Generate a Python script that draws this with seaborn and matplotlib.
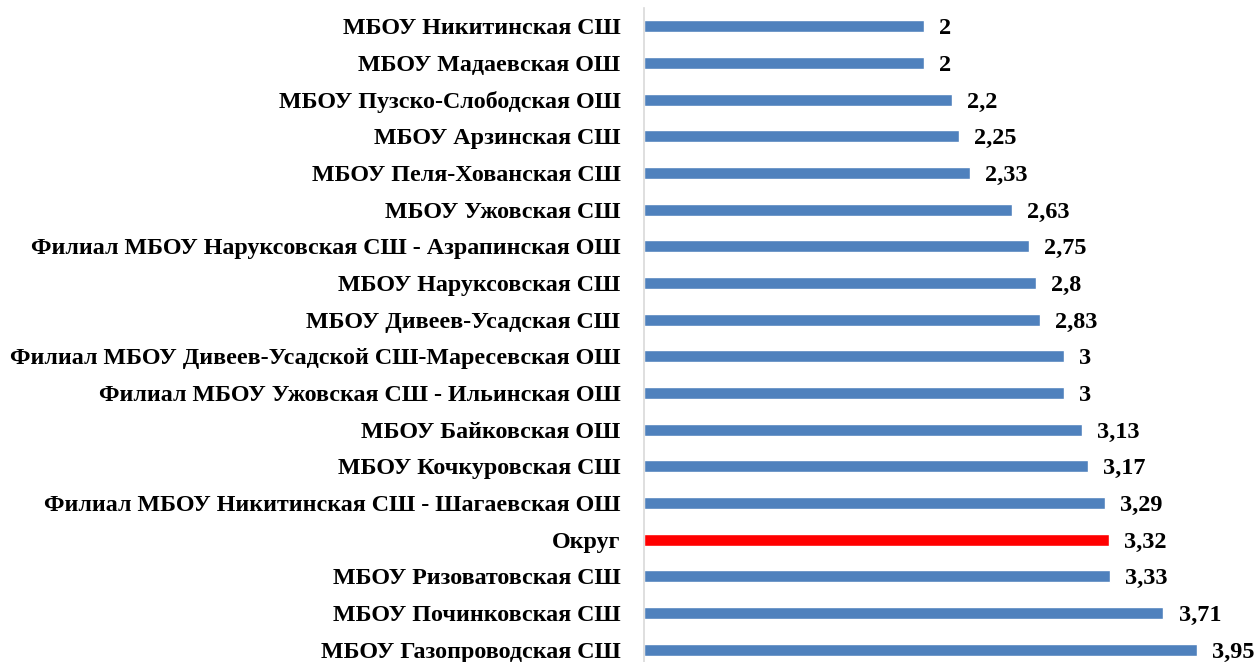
import matplotlib
matplotlib.use("Agg")
import matplotlib.pyplot as plt
import seaborn as sns
import pandas as pd

categories = [
    "МБОУ Никитинская СШ",
    "МБОУ Мадаевская ОШ",
    "МБОУ Пузско-Слободская ОШ",
    "МБОУ Арзинская СШ",
    "МБОУ Пеля-Хованская СШ",
    "МБОУ Ужовская СШ",
    "Филиал МБОУ Наруксовская СШ - Азрапинская ОШ",
    "МБОУ Наруксовская СШ",
    "МБОУ Дивеев-Усадская СШ",
    "Филиал МБОУ Дивеев-Усадской СШ-Маресевская ОШ",
    "Филиал МБОУ Ужовская СШ - Ильинская ОШ",
    "МБОУ Байковская ОШ",
    "МБОУ Кочкуровская СШ",
    "Филиал МБОУ Никитинская СШ - Шагаевская ОШ",
    "Округ",
    "МБОУ Ризоватовская СШ",
    "МБОУ Починковская СШ",
    "МБОУ Газопроводская СШ",
]
values = [2, 2, 2.2, 2.25, 2.33, 2.63, 2.75, 2.8, 2.83, 3, 3, 3.13, 3.17, 3.29, 3.32, 3.33, 3.71, 3.95]
highlight = "Округ"

sns.set_theme(style="white")
plt.rcParams["font.family"] = ["Liberation Serif", "DejaVu Serif"]

df = pd.DataFrame({"name": categories, "value": values})
palette = {c: ("#ff0000" if c == highlight else "#4f81bd") for c in categories}

fig = plt.figure(figsize=(12.58, 6.62), dpi=100)
ax = fig.add_axes([644 / 1258, 1 - 668 / 662, 630 / 1258, 660 / 662])

sns.barplot(data=df, y="name", x="value", hue="name", palette=palette,
            order=categories, hue_order=categories, width=0.33,
            orient="h", legend=False, ax=ax, saturation=1)

ax.set_xlim(0, 4.5)
ax.set_ylim(len(categories) - 0.5, -0.5)
ax.set_xlabel("")
ax.set_ylabel("")
ax.set_xticks([])
for s in ["top", "right", "bottom"]:
    ax.spines[s].set_visible(False)
ax.spines["left"].set_color("#d9d9d9")
ax.spines["left"].set_linewidth(1.2)
ax.tick_params(axis="y", length=0, pad=17)
for lbl in ax.get_yticklabels():
    lbl.set_fontsize(17.3)
    lbl.set_fontweight("bold")
    lbl.set_color("black")

def fmt(v):
    s = f"{v:.2f}".rstrip("0").rstrip(".")
    return s.replace(".", ",")

for cont in ax.containers:
    labels = [fmt(b.get_width()) for b in cont]
    texts = ax.bar_label(cont, labels=labels, padding=11, fontsize=17.5,
                         fontweight="bold", color="black")
    for t in texts:
        t.set_va("center_baseline")

fig.savefig("out.png", dpi=100)
